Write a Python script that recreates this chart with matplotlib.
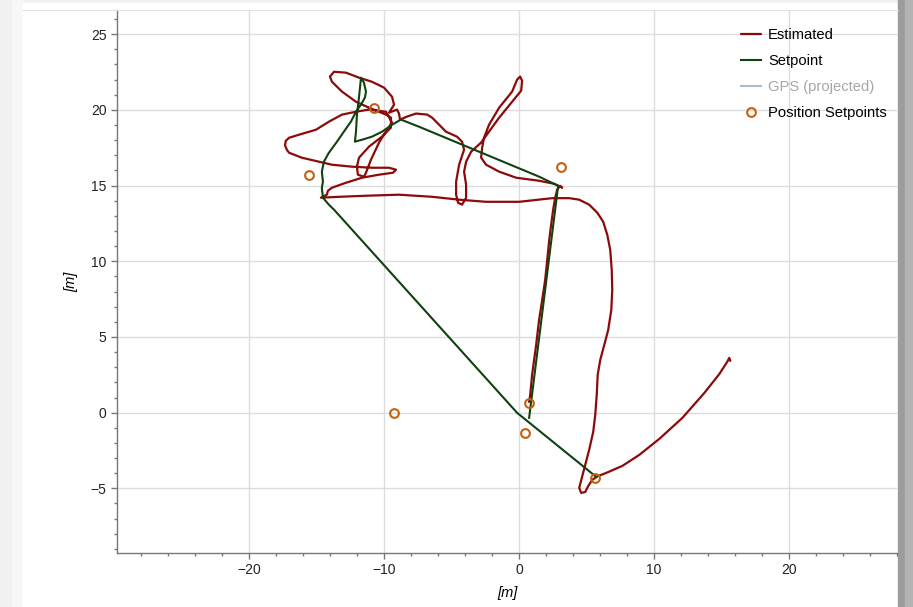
import matplotlib
matplotlib.use("Agg")
import matplotlib.pyplot as plt
from matplotlib.patches import Rectangle
from matplotlib.lines import Line2D
from matplotlib.ticker import MultipleLocator

plt.rcParams["font.family"] = ["Liberation Sans", "DejaVu Sans"]

# estimated trajectory [m]
est_x = [0.74, 0.82, 0.96, 1.11, 1.26, 1.48, 1.71, 1.93, 2.08, 2.23, 2.37, 2.52, 2.67, 2.82, 3.04, 3.19,
         2.60, 1.48, -0.22, -1.48, -2.45, -2.82, -2.74, -2.60, -2.23, -1.48, -0.52, -0.15, 0.07, 0.22,
         0.15, -0.52, -1.48, -2.23, -2.82, -3.56, -3.93, -4.08, -3.93, -3.93, -4.23, -4.53, -4.67, -4.67,
         -4.45, -4.08, -4.23, -4.60, -5.42, -5.93, -6.45, -6.82, -7.64, -8.31, -8.83,
         -8.90, -9.05, -9.64,
         -9.27, -9.42, -10.01, -10.91, -11.87, -12.83, -13.72, -14.02, -13.87, -13.13, -12.09, -11.13,
         -10.39, -9.87, -9.50,
         -9.50, -10.16, -11.13, -11.87, -12.02, -11.95, -11.50, -11.35, -10.98, -10.39, -9.79, -9.42,
         -9.87, -11.13, -12.09, -13.13, -14.10, -15.06, -16.32, -17.05, -17.30, -17.35, -17.20, -17.05,
         -16.09, -14.84, -13.87, -12.39, -10.91, -9.64, -9.12, -9.35, -10.39, -11.65, -12.83, -13.87,
         -14.17, -14.25, -14.69,
         -13.36, -11.35, -8.90, -6.45, -4.45, -2.45, 0.00, 2.45, 3.71,
         4.45, 5.19, 5.79, 6.23, 6.53, 6.75, 6.86, 6.90, 6.83, 6.60, 6.31, 6.01, 5.82, 5.75, 5.64,
         5.49, 5.19, 4.90, 4.60, 4.45, 4.60, 4.90, 5.12, 5.42, 5.79, 6.45, 7.64, 8.90, 10.39, 12.10,
         13.73, 14.84, 15.42, 15.57, 15.65]
est_y = [0.71, 1.18, 2.50, 3.49, 4.48, 6.14, 7.46, 8.78, 10.10, 11.42, 12.41, 13.41, 14.20, 14.73, 14.99, 14.86,
         15.12, 15.32, 15.52, 15.92, 16.38, 16.85, 17.51, 18.17, 19.02, 20.15, 21.21, 22.00, 22.20, 21.93,
         21.27, 20.54, 19.49, 18.57, 17.84, 17.24, 16.58, 15.92, 15.06, 14.20, 13.74, 13.87, 14.40, 15.26,
         16.38, 17.37, 17.90, 18.23, 18.56, 19.02, 19.49, 19.69, 19.76, 19.56, 19.36,
         19.75, 20.02, 19.82,
         20.34, 20.87, 21.47, 21.86, 22.13, 22.46, 22.52, 22.20, 21.86, 21.21, 20.54, 20.15,
         19.88, 19.69, 19.49,
         18.83, 18.24, 17.57, 16.84, 16.25, 15.72, 15.59, 15.85, 16.71, 17.83, 18.69, 19.16,
         19.88, 20.02, 19.88, 19.69, 19.22, 18.69, 18.36, 18.16, 17.95, 17.65, 17.35, 17.17,
         16.84, 16.58, 16.38, 16.25, 16.18, 16.18, 16.05, 15.85, 15.72, 15.52, 15.19, 14.86,
         14.66, 14.40, 14.20,
         14.26, 14.33, 14.40, 14.26, 14.07, 13.93, 13.93, 14.17, 14.17,
         14.07, 13.74, 13.21, 12.61, 11.75, 10.76, 9.44, 8.12, 6.80, 5.47, 4.48, 3.49, 2.50, 1.18, -0.14,
         -1.26, -2.45, -3.44, -4.44, -4.97, -5.30, -5.24, -4.84, -4.44, -4.21, -3.98, -3.52, -2.79, -1.73, -0.34,
         1.31, 2.56, 3.36, 3.62, 3.42]

# setpoint trajectory [m]
sp_x = [0.74, 2.89, 1.48, -7.42, -8.76, -9.42, -10.16, -10.91, -11.65, -12.17, -12.09, -12.02, -11.87,
        -11.72, -11.50, -11.35, -11.43, -11.72, -12.09, -12.47, -12.99, -13.50, -14.10, -14.47, -14.62,
        -14.54, -14.62, -14.54, -14.10, -13.72, -0.15, 5.71]
sp_y = [-0.34, 14.99, 15.59, 18.89, 19.36, 19.02, 18.56, 18.23, 18.03, 17.90, 18.56, 19.69, 20.81,
        22.13, 21.80, 21.21, 20.81, 20.35, 19.88, 19.22, 18.56, 17.90, 17.17, 16.58, 15.92,
        15.26, 14.86, 14.20, 13.74, 13.41, -0.01, -4.24]

# position setpoints [m]
pos_x = [-10.76, -15.58, 3.12, 0.74, 0.45, 5.64, -9.27]
pos_y = [20.15, 15.72, 16.25, 0.65, -1.34, -4.31, -0.01]

RED = "#8b0a0a"
GREEN = "#0f420f"
ORANGE = "#c2620f"

fig = plt.figure(figsize=(9.13, 6.07), dpi=100)

# screenshot drop shadow around the plot panel
fig.patches.append(Rectangle((0, 0), 1, 1, transform=fig.transFigure, color="#f1f1f1", zorder=-10))
fig.patches.append(Rectangle((12 / 913, 0), 11 / 913, 1, transform=fig.transFigure,
                             color="#f7f7f7", zorder=-9.5))
fig.patches.append(Rectangle((23 / 913, 0), 875 / 913, 604 / 607, transform=fig.transFigure,
                             color="white", zorder=-9))
fig.patches.append(Rectangle((898 / 913, 0), 7 / 913, 1, transform=fig.transFigure,
                             color="#9c9c9c", zorder=-8))
fig.patches.append(Rectangle((905 / 913, 0), 8 / 913, 1, transform=fig.transFigure,
                             color="#b3b3b3", zorder=-8))
fig.lines.append(Line2D([23 / 913, 898 / 913], [597.5 / 607, 597.5 / 607], transform=fig.transFigure,
                        color="#e2e2e2", lw=0.8))

ax = fig.add_axes([117 / 913, 54 / 607, 780 / 913, 543 / 607])
ax.set_facecolor("none")

ax.plot(est_x, est_y, color=RED, lw=1.6, solid_joinstyle="round", solid_capstyle="round",
        label="Estimated")
ax.plot(sp_x, sp_y, color=GREEN, lw=1.5, solid_joinstyle="round", label="Setpoint")
ax.plot([], [], color="#a8bccf", lw=1.5, label="GPS (projected)")
ax.plot(pos_x, pos_y, ls="none", marker="o", ms=6.3, mfc="none", mec=ORANGE, mew=1.5,
        label="Position Setpoints", zorder=5)

ax.set_xlim(-29.8, 28.0)
ax.set_ylim(-9.27, 26.6)
ax.xaxis.set_major_locator(MultipleLocator(10))
ax.xaxis.set_minor_locator(MultipleLocator(2))
ax.yaxis.set_major_locator(MultipleLocator(5))
ax.yaxis.set_minor_locator(MultipleLocator(1))
ax.grid(True, which="major", color="#dcdcdc", lw=1)
ax.set_axisbelow(True)
for side in ["top", "right"]:
    ax.spines[side].set_visible(False)
for side in ["left", "bottom"]:
    ax.spines[side].set_color("#777777")
    ax.spines[side].set_linewidth(1)
ax.tick_params(which="major", direction="out", length=4, width=1, color="#777777",
               labelsize=10, labelcolor="#222222")
ax.tick_params(which="minor", direction="out", length=2.5, width=1, color="#777777")

ax.set_xlabel("[m]", fontsize=10.5, style="italic", labelpad=6)
ax.set_ylabel("[m]", fontsize=10.5, style="italic", labelpad=9)

leg = ax.legend(loc="upper right", bbox_to_anchor=(1.0, 0.985), frameon=False, fontsize=10.6,
                handlelength=1.4, handletextpad=0.45, labelspacing=0.8, borderaxespad=0.3)
leg.get_texts()[2].set_color("#a6a6a6")

fig.savefig("out.png", dpi=100)
